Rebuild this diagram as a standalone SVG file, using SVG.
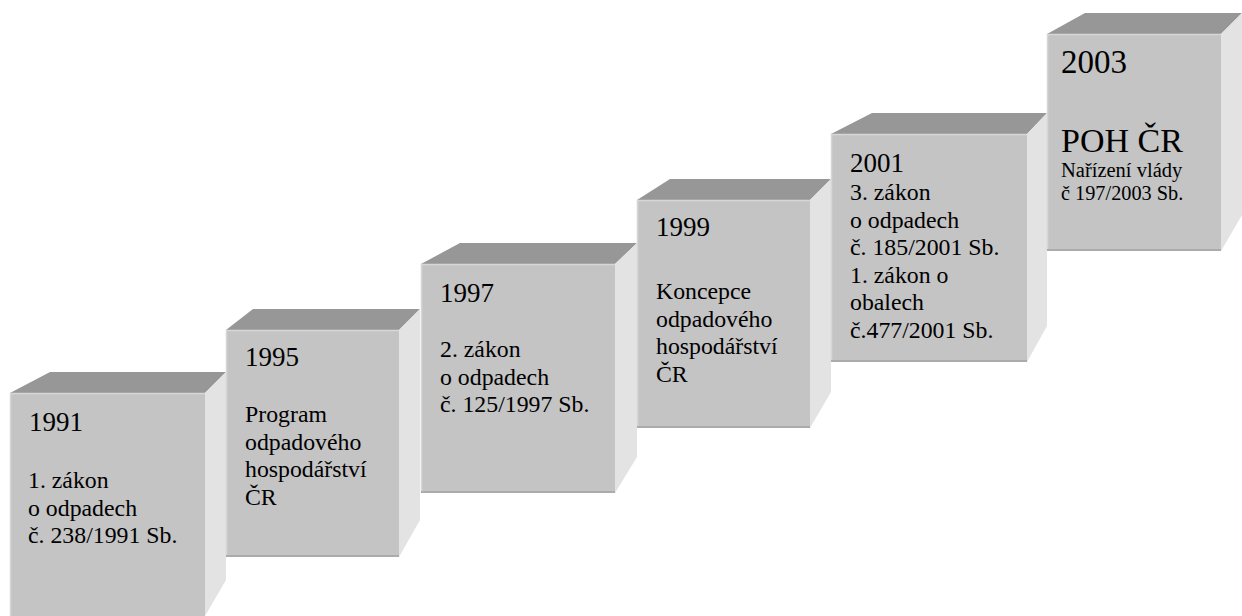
<svg xmlns="http://www.w3.org/2000/svg" width="1242" height="616" viewBox="0 0 1242 616">
<style>
.front{fill:#c4c4c4}
.top{fill:#979797}
.side{fill:#e3e3e3}
.hl{stroke:#d6d6d6;stroke-width:1.5;fill:none}
.sh{stroke:#ababab;stroke-width:2;fill:none}
text{font-family:'Liberation Serif','Times New Roman',serif;fill:#000}
.yr{font-size:27px}
.bd{font-size:23.8px}
</style>
<rect width="1242" height="616" fill="#ffffff"/>
<g id="box1991">
<polygon class="top" points="10,393 50,372 226,372 205,393"/>
<polygon class="side" points="205,393 226,372 226,580 205,616"/>
<rect class="front" x="10" y="393" width="195" height="230"/>
<polyline class="hl" points="10.5,623 10.5,393.5 205,393.5"/>
<text class="yr" x="29" y="431">1991</text>
<text class="bd" x="28" y="488">1. zákon</text>
<text class="bd" x="28" y="515.5">o odpadech</text>
<text class="bd" x="28" y="543">č. 238/1991 Sb.</text>
</g>
<g id="box1995">
<polygon class="top" points="226,330 253,309 420,309 399,330"/>
<polygon class="side" points="399,330 420,309 420,520 399,557"/>
<rect class="front" x="226" y="330" width="173" height="227"/>
<polyline class="hl" points="226.5,556 226.5,330.5 399,330.5"/>
<line class="sh" x1="226" y1="556" x2="399" y2="556"/>
<text class="yr" x="245" y="366">1995</text>
<text class="bd" x="245" y="422">Program</text>
<text class="bd" x="245" y="449.5">odpadového</text>
<text class="bd" x="245" y="477">hospodářství</text>
<text class="bd" x="245" y="504.5">ČR</text>
</g>
<g id="box1997">
<polygon class="top" points="421,264 460,243 637,243 615,264"/>
<polygon class="side" points="615,264 637,243 637,457 615,493"/>
<rect class="front" x="421" y="264" width="194" height="229"/>
<polyline class="hl" points="421.5,492 421.5,264.5 615,264.5"/>
<line class="sh" x1="421" y1="492" x2="615" y2="492"/>
<text class="yr" x="440" y="302">1997</text>
<text class="bd" x="440" y="357">2. zákon</text>
<text class="bd" x="440" y="384.5">o odpadech</text>
<text class="bd" x="440" y="412">č. 125/1997 Sb.</text>
</g>
<g id="box1999">
<polygon class="top" points="637,200 670,179 831,179 810,200"/>
<polygon class="side" points="810,200 831,179 831,392 810,428"/>
<rect class="front" x="637" y="200" width="173" height="228"/>
<polyline class="hl" points="637.5,427 637.5,200.5 810,200.5"/>
<line class="sh" x1="637" y1="427" x2="810" y2="427"/>
<text class="yr" x="656" y="236">1999</text>
<text class="bd" x="656" y="299">Koncepce</text>
<text class="bd" x="656" y="326.5">odpadového</text>
<text class="bd" x="656" y="354">hospodářství</text>
<text class="bd" x="656" y="381.5">ČR</text>
</g>
<g id="box2001">
<polygon class="top" points="831,134 872,113 1047,113 1027,134"/>
<polygon class="side" points="1027,134 1047,113 1047,326 1027,362"/>
<rect class="front" x="831" y="134" width="196" height="228"/>
<polyline class="hl" points="831.5,361 831.5,134.5 1027,134.5"/>
<line class="sh" x1="831" y1="361" x2="1027" y2="361"/>
<text class="yr" x="850" y="172">2001</text>
<text class="bd" x="850" y="200">3. zákon</text>
<text class="bd" x="850" y="227.5">o odpadech</text>
<text class="bd" x="850" y="255">č. 185/2001 Sb.</text>
<text class="bd" x="850" y="282.5">1. zákon o</text>
<text class="bd" x="850" y="310">obalech</text>
<text class="bd" x="850" y="337.5">č.477/2001 Sb.</text>
</g>
<g id="box2003">
<polygon class="top" points="1047,34 1085,13 1242,13 1221,34"/>
<polygon class="side" points="1221,34 1242,13 1242,215 1221,251"/>
<rect class="front" x="1047" y="34" width="174" height="217"/>
<polyline class="hl" points="1047.5,250 1047.5,34.5 1221,34.5"/>
<line class="sh" x1="1047" y1="250" x2="1221" y2="250"/>
<text x="1061" y="73" font-size="33">2003</text>
<text x="1061" y="152" font-size="34">POH ČR</text>
<text x="1061" y="177" font-size="20.5">Nařízení vlády</text>
<text x="1061" y="200" font-size="20.3">č 197/2003 Sb.</text>
</g>
</svg>
